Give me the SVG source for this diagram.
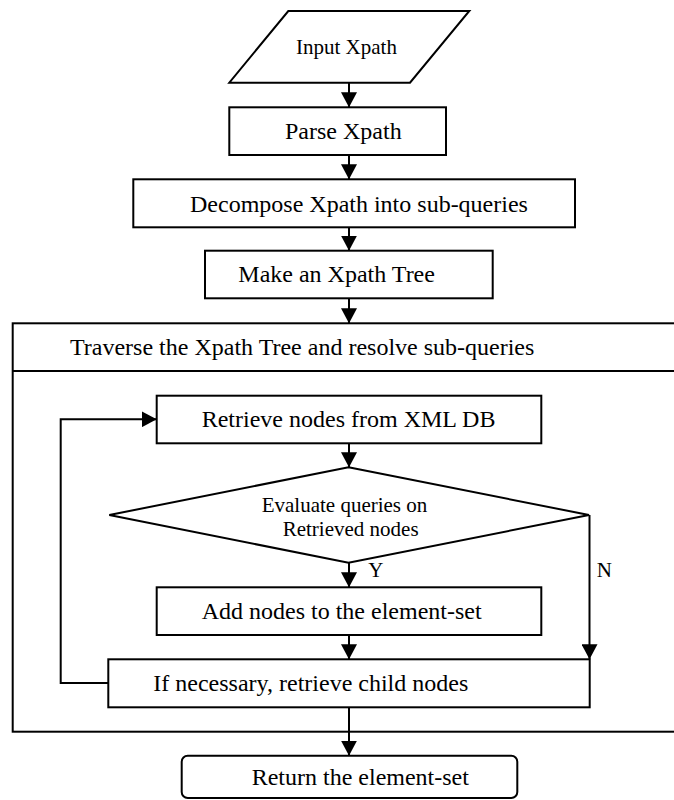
<svg xmlns="http://www.w3.org/2000/svg" width="674" height="800" viewBox="0 0 674 800">
<style>
  .box{fill:#fff;stroke:#000;stroke-width:2}
  .ln{fill:none;stroke:#000;stroke-width:2}
  .t{font-family:"Liberation Serif","Times New Roman",serif;font-size:24px;fill:#000}
  .s{font-family:"Liberation Serif","Times New Roman",serif;font-size:21px;fill:#000}
</style>
<defs>
  <marker id="ah" markerUnits="userSpaceOnUse" markerWidth="15" markerHeight="16" refX="15" refY="8" orient="auto">
    <path d="M0,0 L15,8 L0,16 z" fill="#000"/>
  </marker>
</defs>
<rect width="674" height="800" fill="#fff"/>
<g id="traverse">
  <rect class="box" x="12.7" y="323.3" width="670" height="408.4"/>
  <line class="ln" x1="12.7" y1="371" x2="682" y2="371"/>
  <text class="t" x="70" y="355">Traverse the Xpath Tree and resolve sub-queries</text>
</g>
<g id="input">
  <polygon class="box" points="288.3,11 469.3,11 410,82.7 229.3,82.7"/>
  <text class="s" x="296" y="53.5">Input Xpath</text>
</g>
<g id="parse">
  <rect class="box" x="229.3" y="107.3" width="216.7" height="47.7"/>
  <text class="t" x="285" y="138.5">Parse Xpath</text>
</g>
<g id="decompose">
  <rect class="box" x="133.3" y="179.3" width="441.7" height="48"/>
  <text class="t" x="190" y="211.5">Decompose Xpath into sub-queries</text>
</g>
<g id="make">
  <rect class="box" x="205" y="250.7" width="287.7" height="47.6"/>
  <text class="t" x="238.3" y="282">Make an Xpath Tree</text>
</g>
<g id="retrieve">
  <rect class="box" x="156.7" y="395.7" width="384.6" height="47.6"/>
  <text class="t" x="201.7" y="427">Retrieve nodes from XML DB</text>
</g>
<g id="evaluate">
  <polygon class="box" points="348.5,467.3 589,515 348.5,562.7 109.3,515"/>
  <text class="s" x="261.7" y="512">Evaluate queries on</text>
  <text class="s" x="282.7" y="535.5">Retrieved nodes</text>
</g>
<g id="add">
  <rect class="box" x="156.7" y="587.3" width="384.6" height="47.7"/>
  <text class="t" x="201.7" y="618.7">Add nodes to the element-set</text>
</g>
<g id="ifnec">
  <rect class="box" x="108.3" y="659.3" width="481.4" height="48"/>
  <text class="t" x="153.3" y="690.5">If necessary, retrieve child nodes</text>
</g>
<g id="return">
  <rect class="box" x="181.7" y="755.7" width="335.6" height="42.3" rx="6" ry="6"/>
  <text class="t" x="251.7" y="785">Return the element-set</text>
</g>
<g id="connectors">
  <line class="ln" x1="349" y1="82.7" x2="349" y2="107.3" marker-end="url(#ah)"/>
  <line class="ln" x1="349" y1="155" x2="349" y2="179.3" marker-end="url(#ah)"/>
  <line class="ln" x1="349" y1="227.3" x2="349" y2="250.7" marker-end="url(#ah)"/>
  <line class="ln" x1="349" y1="298.3" x2="349" y2="323.3" marker-end="url(#ah)"/>
  <line class="ln" x1="349" y1="443.3" x2="349" y2="467.3" marker-end="url(#ah)"/>
  <line class="ln" x1="349" y1="562.7" x2="349" y2="587.3" marker-end="url(#ah)"/>
  <line class="ln" x1="349" y1="635" x2="349" y2="659.3" marker-end="url(#ah)"/>
  <line class="ln" x1="589.5" y1="515" x2="589.5" y2="659.3" marker-end="url(#ah)"/>
  <polyline class="ln" points="108.3,683 60.7,683 60.7,419.3 156.7,419.3" marker-end="url(#ah)"/>
  <line class="ln" x1="349" y1="707.3" x2="349" y2="755.7" marker-end="url(#ah)"/>
  <text class="s" x="368.3" y="577">Y</text>
  <text class="s" x="596.7" y="577">N</text>
</g>
</svg>
